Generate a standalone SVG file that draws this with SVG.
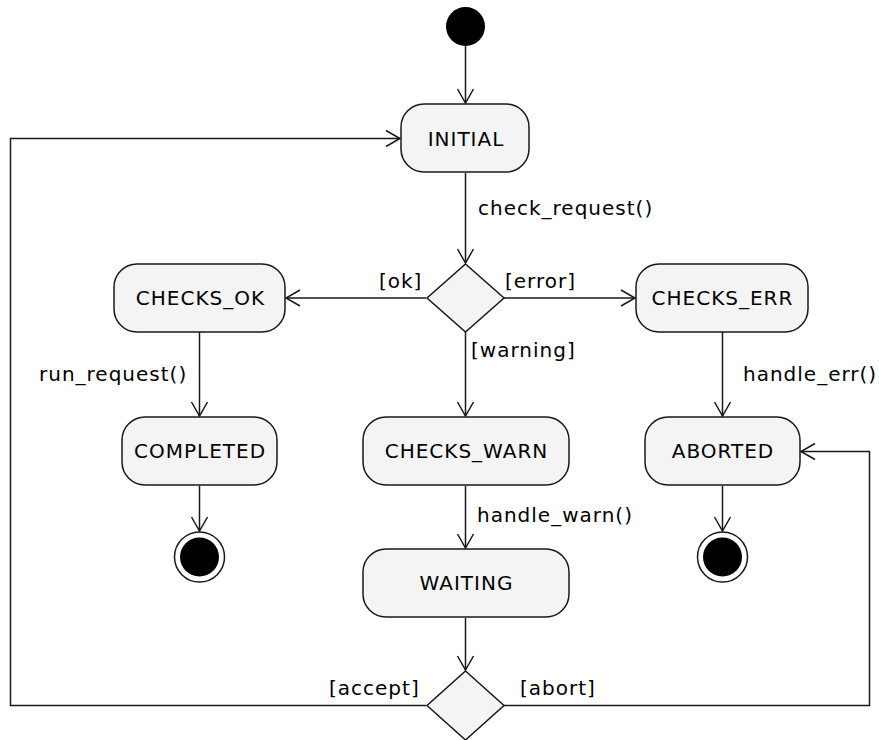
<svg xmlns="http://www.w3.org/2000/svg" width="879" height="740" viewBox="0 0 879 740">
<style>
.node rect, .node polygon { fill: #F4F4F4; stroke: #181818; stroke-width: 1.5; }
.lbl { font-family: "DejaVu Sans", Verdana, sans-serif; font-size: 20px; letter-spacing: 1px; fill: #000; }
.ctr { text-anchor: middle; }
.edges path { fill: none; stroke: #181818; stroke-width: 1.5; }
</style>
<defs>
<marker id="arr" markerUnits="userSpaceOnUse" markerWidth="20" markerHeight="20" viewBox="-16 -10 20 20" refX="0" refY="0" orient="auto">
<path d="M-14,-8 L0,0 L-14,8" fill="none" stroke="#181818" stroke-width="1.5"/>
</marker>
</defs>
<rect width="879" height="740" fill="#FFFFFF"/>
<g id="edges" class="edges">
<path d="M465.5 46 V103" marker-end="url(#arr)"/>
<path d="M465.5 173 V263" marker-end="url(#arr)"/>
<path d="M426 298 H286" marker-end="url(#arr)"/>
<path d="M504 298 H635" marker-end="url(#arr)"/>
<path d="M465.5 332 V416" marker-end="url(#arr)"/>
<path d="M199.5 332 V416" marker-end="url(#arr)"/>
<path d="M722.5 332 V416" marker-end="url(#arr)"/>
<path d="M199.5 486 V531" marker-end="url(#arr)"/>
<path d="M722.5 486 V531" marker-end="url(#arr)"/>
<path d="M465.5 486 V548" marker-end="url(#arr)"/>
<path d="M465.5 618 V670" marker-end="url(#arr)"/>
<path d="M426 705.5 H10.5 V138.5 H400" marker-end="url(#arr)"/>
<path d="M504 705.5 H869.5 V451.5 H801" marker-end="url(#arr)"/>
<text class="lbl" x="478" y="215">check_request()</text>
<text class="lbl" x="379" y="288">[ok]</text>
<text class="lbl" x="505" y="288">[error]</text>
<text class="lbl" x="471" y="357">[warning]</text>
<text class="lbl" x="39" y="381">run_request()</text>
<text class="lbl" x="743" y="381">handle_err()</text>
<text class="lbl" x="477" y="522">handle_warn()</text>
<text class="lbl" x="329" y="695">[accept]</text>
<text class="lbl" x="520" y="695">[abort]</text>
</g>
<g id="start"><circle cx="465.5" cy="26.5" r="19.5" fill="#000"/></g>
<g id="INITIAL" class="node"><rect x="401" y="104" width="128" height="68" rx="23"/><text class="lbl ctr" x="466" y="146">INITIAL</text></g>
<g id="choice1" class="node"><polygon points="465.5,264 504,298 465.5,332 427,298"/></g>
<g id="CHECKS_OK" class="node"><rect x="114" y="264" width="171" height="68" rx="23"/><text class="lbl ctr" x="200.5" y="305">CHECKS_OK</text></g>
<g id="CHECKS_ERR" class="node"><rect x="636" y="264" width="172" height="68" rx="23"/><text class="lbl ctr" x="722.5" y="305">CHECKS_ERR</text></g>
<g id="COMPLETED" class="node"><rect x="122" y="417" width="155" height="68" rx="23"/><text class="lbl ctr" x="200" y="458">COMPLETED</text></g>
<g id="CHECKS_WARN" class="node"><rect x="363" y="417" width="206" height="68" rx="23"/><text class="lbl ctr" x="466.5" y="458">CHECKS_WARN</text></g>
<g id="ABORTED" class="node"><rect x="645" y="417" width="155" height="68" rx="23"/><text class="lbl ctr" x="723" y="458">ABORTED</text></g>
<g id="WAITING" class="node"><rect x="363" y="549" width="206" height="68" rx="23"/><text class="lbl ctr" x="466.5" y="590">WAITING</text></g>
<g id="choice2" class="node"><polygon points="465.5,671 504,705.5 465.5,740 427,705.5"/></g>
<g id="end1"><circle cx="199.5" cy="557" r="25" fill="none" stroke="#181818" stroke-width="1.5"/><circle cx="199.5" cy="557" r="19.5" fill="#000"/></g>
<g id="end2"><circle cx="722.5" cy="557" r="25" fill="none" stroke="#181818" stroke-width="1.5"/><circle cx="722.5" cy="557" r="19.5" fill="#000"/></g>
</svg>
